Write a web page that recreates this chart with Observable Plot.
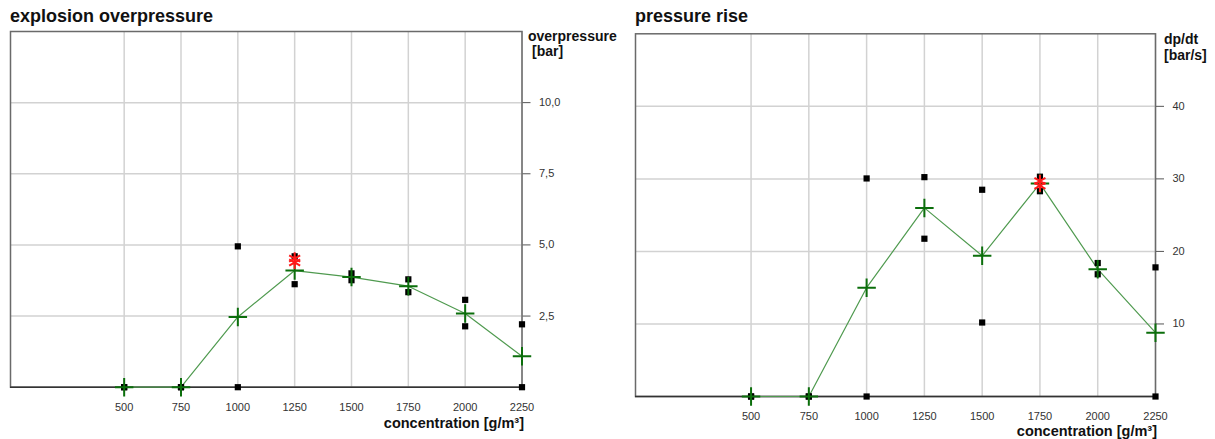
<!DOCTYPE html>
<html><head><meta charset="utf-8">
<script src="https://cdn.jsdelivr.net/npm/d3@7"></script>
<script src="https://cdn.jsdelivr.net/npm/@observablehq/plot@0.6"></script>
<style>
body{margin:0;background:#fff;font-family:"Liberation Sans",Arial,sans-serif;}
#root{position:relative;width:1215px;height:439px;overflow:hidden;background:#fff;}
.panel{position:absolute;top:0;}
.title{height:28px;box-sizing:border-box;padding-top:6px;line-height:20px;font-weight:bold;font-size:18px;color:#111;white-space:nowrap;}
.lbl{position:absolute;font-weight:bold;font-size:14px;line-height:16px;color:#111;white-space:nowrap;z-index:2;}
.xl{font-size:14.5px;line-height:12px;}
</style>
</head><body>
<div id="root">
  <div class="panel" id="left" style="left:0;width:610px;"><div class="title" style="padding-left:10px;">explosion overpressure</div></div>
  <div class="panel" id="right" style="left:610px;width:605px;"><div class="title" style="padding-left:25px;">pressure rise</div></div>
  <div class="lbl" style="left:528px;top:28px;">overpressure</div>
  <div class="lbl" style="left:532px;top:43px;">[bar]</div>
  <div class="lbl xl" style="right:691px;top:417px;">concentration [g/m³]</div>
  <div class="lbl" style="left:1164px;top:31px;">dp/dt</div>
  <div class="lbl" style="left:1164px;top:47px;">[bar/s]</div>
  <div class="lbl xl" style="right:58px;top:425px;">concentration [g/m³]</div>
</div>
<script>
const concentration = [500, 750, 1000, 1250, 1500, 1750, 2000, 2250];
const xTicks = [500, 750, 1000, 1250, 1500, 1750, 2000, 2250];

const overpressureRun1 = [0, 0, 4.95, 4.6, 4.0, 3.79, 3.07, 2.21];
const overpressureRun2 = [0, 0, 0, 3.62, 3.76, 3.34, 2.14, 0];
const overpressureMean = [0, 0, 2.47, 4.1, 3.87, 3.55, 2.59, 1.09];
const overpressureMaxConc = [1250, 1250];
const overpressureMaxVal = [4.38, 4.52];
const overpressureTicks = [2.5, 5, 7.5, 10];

const dpdtRun1 = [0, 0, 30.06, 30.24, 28.5, 30.3, 18.4, 17.8];
const dpdtRun2 = [0, 0, 0, 21.75, 10.2, 28.3, 16.85, 0];
const dpdtMean = [0, 0, 15.0, 26.0, 19.4, 29.35, 17.55, 8.8];
const dpdtMaxConc = [1750, 1750];
const dpdtMaxVal = [29.05, 29.7];
const dpdtTicks = [10, 20, 30, 40];

function makePanel(o) {
  const rows = (vals) => concentration.map((c, i) => ({c, v: vals[i]}));
  const meas = rows(o.run1).concat(rows(o.run2));
  const mean = rows(o.mean);
  const maxes = o.maxX.map((c, i) => ({c, v: o.maxY[i]}));
  return Plot.plot({
    width: o.width, height: o.height,
    marginLeft: o.ml, marginRight: o.mr, marginTop: o.mt, marginBottom: o.mb,
    x: {domain: [0, 2250], label: null},
    y: {domain: o.yDomain, label: null},
    style: {fontFamily: '"Liberation Sans Narrow","Arial Narrow","Liberation Sans",sans-serif', fontSize: "11px", color: "#333", background: "transparent", overflow: "visible"},
    marks: [
      Plot.gridX(xTicks, {stroke: "#d2d2d2", strokeOpacity: 1, strokeWidth: 1.5}),
      Plot.gridY(o.yTicks, {stroke: "#d2d2d2", strokeOpacity: 1, strokeWidth: 1.5}),
      Plot.frame({stroke: "#6a6a6a", strokeWidth: 1.5}),
      Plot.ruleY([0], {stroke: "#333", strokeWidth: 1.5}),
      Plot.axisX(xTicks, {label: null, tickSize: 0, tickPadding: o.xPad, tickFormat: d => String(d)}),
      Plot.axisY(o.yTicks, {label: null, anchor: "right", tickSize: 8, tickPadding: 9, tickFormat: o.yFormat, stroke: "#555"}),
      Plot.line(mean, {x: "c", y: "v", stroke: "#4f9a4f", strokeWidth: 1.2}),
      Plot.dot(meas, {x: "c", y: "v", symbol: "square", fill: "#000", r: 3.5}),
      Plot.dot(mean, {x: "c", y: "v", symbol: "plus", stroke: "#0b6e0b", strokeWidth: 2, r: 6}),
      Plot.dot(maxes, {x: "c", y: "v", symbol: "asterisk", stroke: "#ff1a1a", strokeWidth: 2, r: 6})
    ]
  });
}

document.getElementById("left").appendChild(makePanel({
  width: 610, height: 411, ml: 10, mr: 88.5, mt: 3, mb: 52.3,
  yDomain: [0, 12.5], yTicks: overpressureTicks,
  yFormat: d => d.toFixed(1).replace(".", ","),
  run1: overpressureRun1, run2: overpressureRun2, mean: overpressureMean,
  maxX: overpressureMaxConc, maxY: overpressureMaxVal, xPad: 16
}));
document.getElementById("right").appendChild(makePanel({
  width: 605, height: 411, ml: 25, mr: 60, mt: 5.3, mb: 43,
  yDomain: [0, 50], yTicks: dpdtTicks,
  yFormat: d => String(d),
  run1: dpdtRun1, run2: dpdtRun2, mean: dpdtMean,
  maxX: dpdtMaxConc, maxY: dpdtMaxVal, xPad: 16
}));
</script>
</body></html>
